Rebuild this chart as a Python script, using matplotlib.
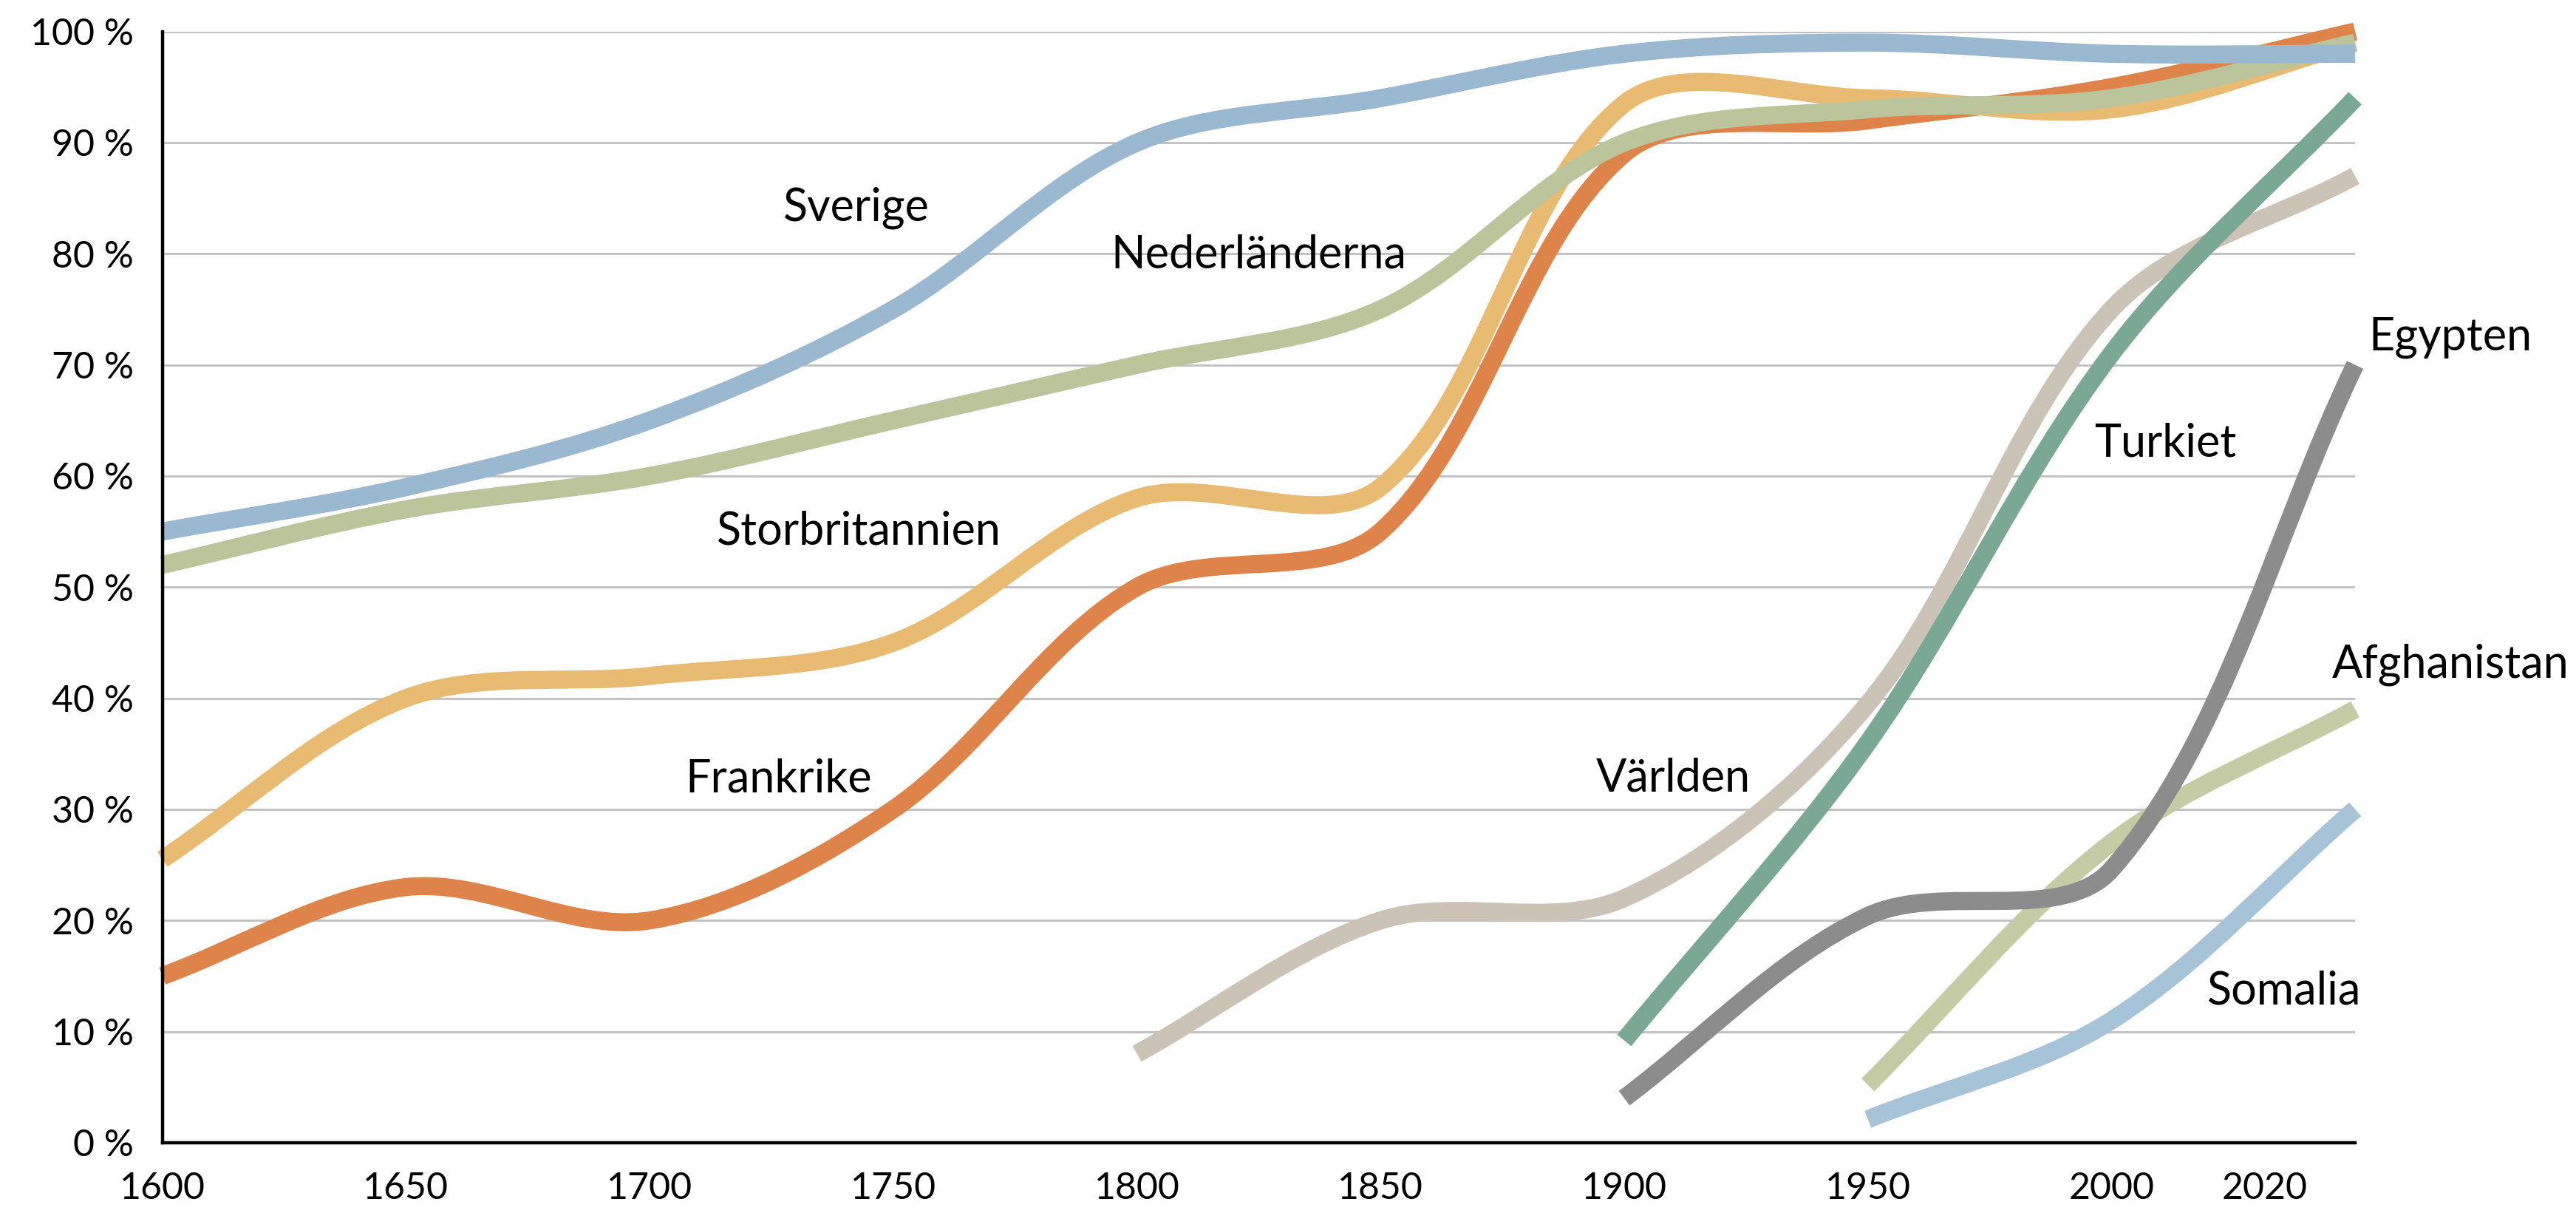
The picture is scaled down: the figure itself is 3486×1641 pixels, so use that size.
import numpy as np
import matplotlib
matplotlib.use("Agg")
import matplotlib.pyplot as plt
from matplotlib.path import Path
from matplotlib.patches import PathPatch

plt.rcParams['font.family'] = ['Lato', 'DejaVu Sans']

years = ['1600', '1650', '1700', '1750', '1800', '1850', '1900', '1950', '2000', '2020']
nan = np.nan

sverige        = [55, 59, 65, 75, 90, 94, 98, 99, 98, 98]
nederlanderna  = [52, 57, 60, 65, 70, 75, 90, 93, 94, 99]
storbritannien = [25.5, 40, 42, 45, 58, 59, 93.5, 94, 93, 99]
frankrike      = [15, 23, 20, 30, 50, 55, 89, 92, 95, 100]
varlden        = [nan, nan, nan, nan, 8, 20, 22, 39.5, 75, 87]
turkiet        = [nan, nan, nan, nan, nan, nan, 9.2, 36, 71, 94]
egypten        = [nan, nan, nan, nan, nan, nan, 4, 20.4, 24.6, 70]
afghanistan    = [nan, nan, nan, nan, nan, nan, nan, 5.2, 27, 39]
somalia        = [nan, nan, nan, nan, nan, nan, nan, 2.1, 11, 30]

# drawn in this order (later on top)
series = [
    ('Frankrike', frankrike, '#DE834A'),
    ('Storbritannien', storbritannien, '#E8BA72'),
    ('Nederländerna', nederlanderna, '#BBC49B'),
    ('Sverige', sverige, '#9AB8D0'),
    ('Världen', varlden, '#CBC3B6'),
    ('Turkiet', turkiet, '#7AA895'),
    ('Afghanistan', afghanistan, '#C5CCA5'),
    ('Egypten', egypten, '#8C8C8C'),
    ('Somalia', somalia, '#A6C3D8'),
]

labels = {
    'Sverige': (2.85, 84.1),
    'Nederländerna': (4.50, 79.9),
    'Storbritannien': (2.86, 55.0),
    'Frankrike': (2.53, 32.7),
    'Världen': (6.20, 32.8),
    'Turkiet': (8.22, 62.9),
    'Egypten': (9.39, 72.5),
    'Afghanistan': (9.39, 43.0),
    'Somalia': (8.71, 13.6),
}

YS = 6.76 / 148.2  # one percent vs one category step, on screen


def smooth_path(xs, ys):
    # Excel-like smoothed line: bezier with length weighted tangents
    pts = np.column_stack([xs, ys]).astype(float)
    n = len(pts)

    def dist(a, b):
        return np.hypot(a[0] - b[0], (a[1] - b[1]) * YS)

    verts = [pts[0]]
    codes = [Path.MOVETO]
    for i in range(n - 1):
        p0 = pts[i - 1] if i > 0 else pts[i]
        p1 = pts[i]
        p2 = pts[i + 1]
        p3 = pts[i + 2] if i + 2 < n else pts[i + 1]
        d01, d12, d23 = dist(p0, p1), dist(p1, p2), dist(p2, p3)
        c1 = p1 + (p2 - p0) * d12 / (d01 + d12) / 3.0
        c2 = p2 - (p3 - p1) * d12 / (d12 + d23) / 3.0
        verts += [c1, c2, p2]
        codes += [Path.CURVE4] * 3
    return Path(verts, codes)


fig = plt.figure(figsize=(17.435, 8.205), dpi=200)
ax = fig.add_axes([0.063, 0.058, 0.851, 0.916])

x = np.arange(len(years))
for name, vals, col in series:
    v = np.array(vals, dtype=float)
    m = ~np.isnan(v)
    p = smooth_path(x[m], v[m])
    ax.add_patch(PathPatch(p, fill=False, edgecolor=col, lw=8.8,
                           capstyle='butt', joinstyle='round', clip_on=False))
    tx, ty = labels[name]
    ax.text(tx, ty, name, fontsize=22, ha='center', va='center', color='black')

ax.set_xlim(0, 9)
ax.set_ylim(0, 100)
ax.set_yticks(range(0, 101, 10))
ax.set_yticklabels([f'{v} %' for v in range(0, 101, 10)], fontsize=18)
xt = [0, 1, 2, 3, 4, 5, 6, 7, 8, 8.63]
ax.set_xticks(xt)
ax.set_xticklabels(years, fontsize=18)
ax.tick_params(length=0, pad=14)
ax.grid(axis='y', color='#BFBFBF', lw=1.0)
ax.set_axisbelow(True)
for s in ['top', 'right']:
    ax.spines[s].set_visible(False)
for s in ['left', 'bottom']:
    ax.spines[s].set_linewidth(1.6)
    ax.spines[s].set_color('black')

fig.savefig('out.png', dpi=200)
